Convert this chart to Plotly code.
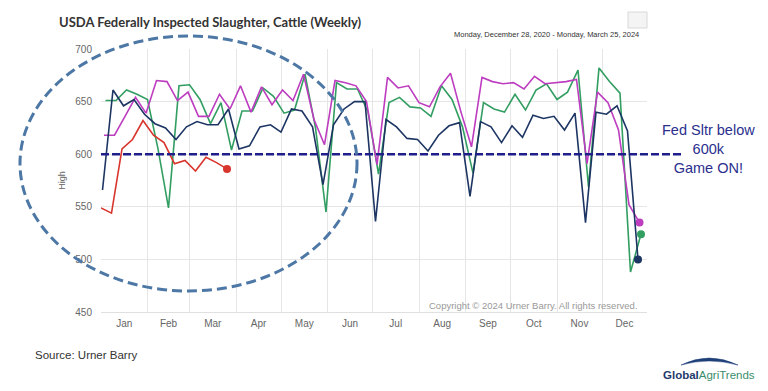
import pandas as pd
import plotly.graph_objects as go

# ---------------- data (weekly head, thousands) ----------------
months = ["Jan", "Feb", "Mar", "Apr", "May", "Jun", "Jul", "Aug", "Sep", "Oct", "Nov", "Dec"]

start_2021 = "2021-01-04"
start_2022 = "2022-01-03"
start_2023 = "2023-01-02"
start_2024 = "2024-01-01"

green_2021 = [651, 651, 661, 657, 652, 605, 549, 665, 666, 652, 629, 649, 604, 641, 641, 663,
              655, 639, 642, 676, 625, 545, 668, 662, 662, 640, 581, 649, 654, 645, 644, 636,
              665, 652, 626, 582, 649, 643, 640, 657, 642, 661, 667, 652, 659, 680, 569, 682,
              669, 658, 488, 524]
magenta_2022 = [618, 618, 636, 654, 639, 670, 669, 651, 659, 636, 636, 657, 643, 665, 640, 664,
                647, 661, 651, 676, 633, 609, 670, 668, 665, 650, 590, 673, 663, 665, 649, 645,
                664, 677, 640, 607, 673, 669, 667, 668, 662, 674, 667, 668, 669, 671, 591, 659,
                649, 623, 552, 535]
navy_2023 = [566, 661, 646, 652, 638, 629, 625, 614, 626, 631, 628, 628, 643, 605, 608, 626,
             628, 621, 643, 641, 626, 571, 628, 643, 650, 650, 536, 633, 626, 615, 614, 603,
             618, 627, 630, 560, 631, 626, 611, 627, 616, 637, 634, 636, 623, 639, 535, 640,
             638, 646, 622, 500]
red_2024 = [549, 544, 605, 614, 632, 618, 611, 591, 594, 584, 597, 592, 586]

threshold = 600
y_ticks = [450, 500, 550, 600, 650, 700]

series = [
    ("2021", start_2021, green_2021, "#339e62"),
    ("2022", start_2022, magenta_2022, "#bd3cc0"),
    ("2023", start_2023, navy_2023, "#1d3563"),
    ("2024", start_2024, red_2024, "#d8352c"),
]


def to_common_year(start, n):
    d = pd.date_range(start, periods=n, freq="7D")
    jan1 = pd.Timestamp(d[0].year, 1, 1)
    return [pd.Timestamp("2021-01-01") + (x - jan1) for x in d]


# ---------------- layout geometry (window pixels) ----------------
WIN_W, WIN_H = 768, 391
OFF = 8                      # default page body margin
FIG_W, FIG_H = WIN_W - OFF, WIN_H - OFF
L, R, T, B = 101, 647, 49, 312
PW, PH = R - L, B - T


def px(x):
    return (x - L) / PW


def py(y):
    return (B - y) / PH


FONT = "Liberation Sans, Arial, sans-serif"

fig = go.Figure()
for name, start, vals, color in series:
    xs = to_common_year(start, len(vals))
    fig.add_trace(go.Scatter(x=xs, y=vals, mode="lines", name=name,
                             line=dict(color=color, width=1.6), hoverinfo="skip"))
    fig.add_trace(go.Scatter(x=[xs[-1]], y=[vals[-1]], mode="markers", name=name,
                             marker=dict(color=color, size=8), showlegend=False))

shapes = []
shapes.append(dict(type="line", xref="paper", yref="y", x0=0, x1=px(682), y0=threshold, y1=threshold,
                   line=dict(color="#1f1f8a", width=2.5, dash="8px,3px"), layer="above"))
shapes.append(dict(type="circle", xref="paper", yref="paper", x0=px(20), x1=px(357), y0=py(291), y1=py(36),
                   line=dict(color="#4d77a5", width=3, dash="10px,5px"), layer="above"))
shapes.append(dict(type="rect", xref="paper", yref="paper", x0=px(628), x1=px(647), y0=py(28), y1=py(12),
                   line=dict(color="#d8d8d8", width=1), fillcolor="#f4f4f4", layer="above"))
shapes.append(dict(type="line", xref="paper", yref="paper", x0=px(763), x1=px(763), y0=py(391), y1=py(OFF),
                   line=dict(color="#dddddd", width=1)))
arc = (f"M {px(681)},{py(365)} Q {px(709)},{py(351)} {px(738)},{py(365)} "
       f"Q {px(709)},{py(357)} {px(681)},{py(365)} Z")
shapes.append(dict(type="path", xref="paper", yref="paper", path=arc,
                   fillcolor="#1f3f78", line=dict(color="#1f3f78", width=0.5)))

annotations = [
    dict(text="<b>USDA Federally Inspected Slaughter, Cattle (Weekly)</b>", xref="paper", yref="paper",
         x=px(57), y=py(22), xanchor="left", yanchor="middle", showarrow=False,
         font=dict(family="Lato, sans-serif", size=13, color="#333333")),
    dict(text="Monday, December 28, 2020 - Monday, March 25, 2024", xref="paper", yref="paper",
         x=px(641), y=py(35), xanchor="right", yanchor="middle", showarrow=False,
         font=dict(family=FONT, size=7.5, color="#333333")),
    dict(text="Copyright © 2024 Urner Barry. All rights reserved.", xref="paper", yref="paper",
         x=px(640), y=py(305), xanchor="right", yanchor="middle", showarrow=False,
         font=dict(family=FONT, size=9.5, color="#999999")),
    dict(text="Fed Sltr below<br>600k<br>Game ON!", xref="paper", yref="paper",
         x=px(708), y=py(149), xanchor="center", yanchor="middle", showarrow=False, align="center",
         font=dict(family=FONT, size=14.5, color="#2b2f8e")),
    dict(text="Source: Urner Barry", xref="paper", yref="paper",
         x=px(33), y=py(355), xanchor="left", yanchor="middle", showarrow=False,
         font=dict(family=FONT, size=11.5, color="#333333")),
    dict(text="<b><span style='color:#1f3a6c'>Global</span></b><span style='color:#3a8d6b'>AgriTrends</span>",
         xref="paper", yref="paper", x=px(661), y=py(375), xanchor="left", yanchor="middle",
         showarrow=False, font=dict(family=FONT, size=11.5)),
]

fig.update_layout(
    width=FIG_W, height=FIG_H,
    margin=dict(l=L - OFF, r=WIN_W - R, t=T - OFF, b=WIN_H - B, pad=0),
    paper_bgcolor="white", plot_bgcolor="white",
    showlegend=False,
    shapes=shapes, annotations=annotations,
    font=dict(family=FONT),
    xaxis=dict(type="date", range=["2021-01-01", "2021-12-31"], dtick="M1", tick0="2021-01-01",
               tickformat="%b", ticklabelmode="period", showgrid=True, gridcolor="#e6e6e6",
               zeroline=False, showline=True, linecolor="#e0e0e0", ticks="", automargin=False,
               ticklabelstandoff=2, tickfont=dict(size=10, color="#666666")),
    yaxis=dict(range=[450, 700], tickvals=y_ticks, showgrid=True, gridcolor="#e6e6e6",
               zeroline=False, showline=False, ticks="", automargin=False, ticklabelstandoff=8,
               tickfont=dict(size=10, color="#666666"),
               title=dict(text="High", font=dict(size=9, color="#666666"), standoff=8)),
)

fig.write_html("out.html")
